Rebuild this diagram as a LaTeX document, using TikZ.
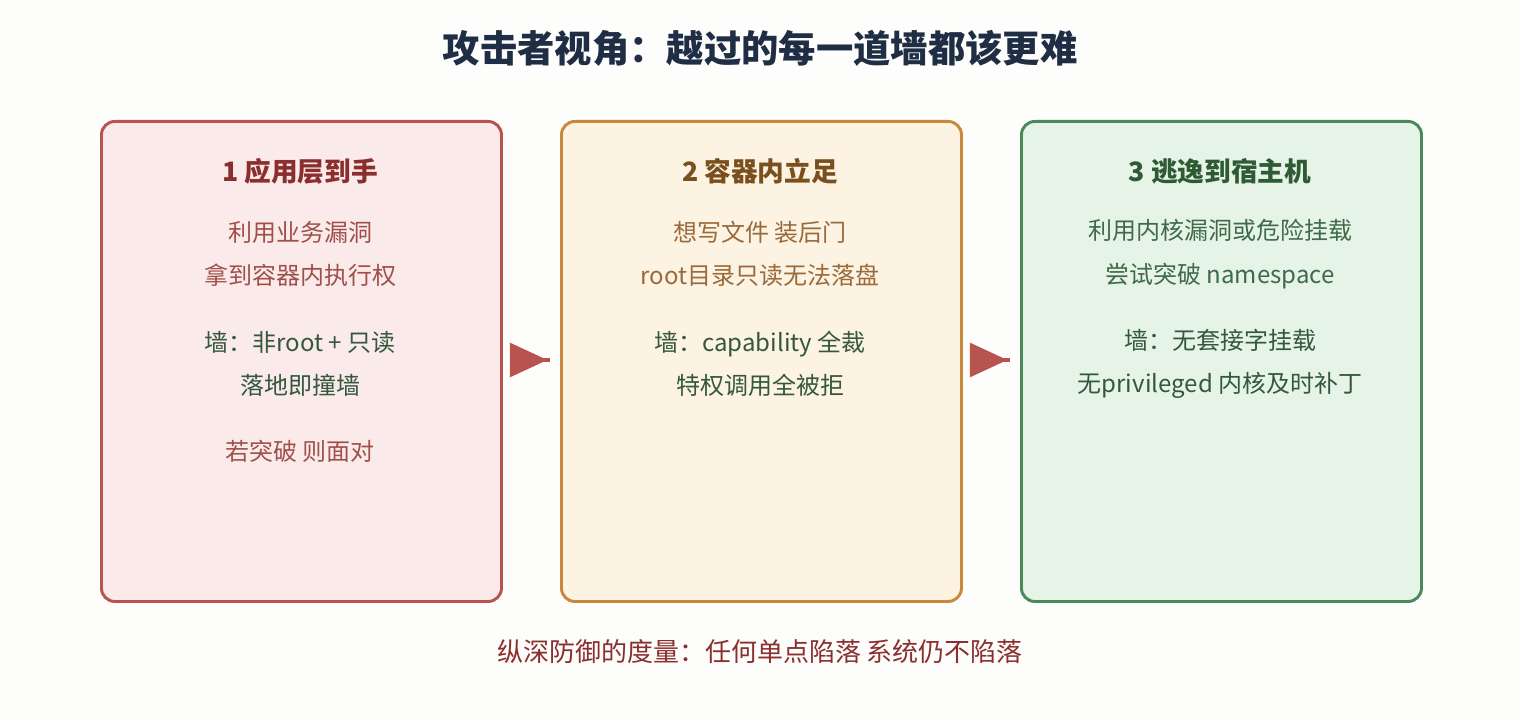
\documentclass[tikz,border=0pt]{standalone}
\usepackage{fontspec}
\setmainfont{Noto Sans CJK SC}
\usetikzlibrary{positioning}
\definecolor{redline}{HTML}{B85450}
\definecolor{redfill}{HTML}{FBEAEA}
\definecolor{redhead}{HTML}{8B2E2E}
\definecolor{redtext}{HTML}{A0504A}
\definecolor{orline}{HTML}{C88A3A}
\definecolor{orfill}{HTML}{FDF3E3}
\definecolor{orhead}{HTML}{7A4F1E}
\definecolor{ortext}{HTML}{9A6A3A}
\definecolor{grline}{HTML}{4A8A5A}
\definecolor{grfill}{HTML}{E6F4E8}
\definecolor{grhead}{HTML}{2E5A34}
\definecolor{grtext}{HTML}{3F6A48}
\definecolor{walltext}{HTML}{34583C}
\definecolor{titletext}{HTML}{1F2D45}
\tikzset{
  stage/.style={draw, line width=2.2pt, rounded corners=10pt, minimum width=300pt, minimum height=360pt, anchor=north west},
  head/.style={font=\bfseries\fontsize{20}{24}\selectfont},
  body/.style={font=\fontsize{18}{32.5}\selectfont, align=center}
}
\begin{document}
\begin{tikzpicture}[x=0.75pt, y=-0.75pt]
  \useasboundingbox[fill={rgb,255:red,253;green,253;blue,252}] (0,0) rectangle (1520,720);
  % Title
  \node[font=\bfseries\fontsize{28}{32}\selectfont, text=titletext] (title) at (760,48) {攻击者视角：越过的每一道墙都该更难};

  % Boxes
  \node[stage, draw=redline, fill=redfill] (app) at (100,120) {};
  \node[stage, draw=orline, fill=orfill] (ctr) at (560,120) {};
  \node[stage, draw=grline, fill=grfill] (host) at (1020,120) {};

  % Box 1
  \node[head, text=redhead] (apph) at (300,171) {1 应用层到手};
  \node[body, text=redtext] (appa) at (300,254) {利用业务漏洞\\拿到容器内执行权};
  \node[body, text=walltext] (appw) at (300,364) {墙：非root + 只读\\落地即撞墙};
  \node[body, text=redtext] (appn) at (300,451) {若突破 则面对};

  % Box 2
  \node[head, text=orhead] (ctrh) at (760,171) {2 容器内立足};
  \node[body, text=ortext] (ctra) at (760,254) {想写文件 装后门\\root目录只读无法落盘};
  \node[body, text=walltext] (ctrw) at (760,364) {墙：capability 全裁\\特权调用全被拒};

  % Box 3
  \node[head, text=grhead] (hosth) at (1220,171) {3 逃逸到宿主机};
  \node[body, text=grtext] (hosta) at (1220,254) {利用内核漏洞或危险挂载\\尝试突破 namespace};
  \node[body, text=walltext] (hostw) at (1220,364) {墙：无套接字挂载\\无privileged 内核及时补丁};

  % Arrows
  \foreach \s/\t in {app/ctr, ctr/host} {
    \coordinate (\s-tip) at ([xshift=5.25pt]\s.east |- 0,360);
    \draw[line width=3pt, redline] ([xshift=25pt]\s-tip) -- ([xshift=-7.5pt]\t.west |- 0,360);
    \fill[redline] ([yshift=13pt]\s-tip) -- ([xshift=28pt]\s-tip) -- ([yshift=-13pt]\s-tip) -- cycle;
  }

  % Footer
  \node[font=\fontsize{19.5}{22}\selectfont, text=redhead] (foot) at (760,652) {纵深防御的度量：任何单点陷落 系统仍不陷落};
\end{tikzpicture}
\end{document}
